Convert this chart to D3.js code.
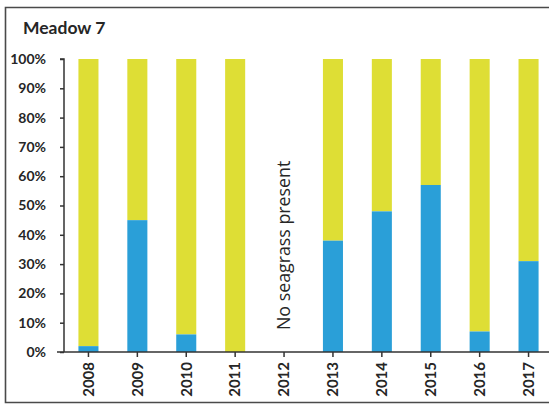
<!DOCTYPE html>
<html><head><meta charset="utf-8">
<script src="https://cdn.jsdelivr.net/npm/d3@7"></script>
<style>body{margin:0;background:#fff;} svg{display:block;}</style>
</head><body>
<svg id="c" width="549" height="405"></svg>
<script>
const title = "Meadow 7";
const years = ["2008","2009","2010","2011","2012","2013","2014","2015","2016","2017"];
const bluePct = [2, 45, 6, 0, null, 38, 48, 57, 7, 31];
const yTicks = [0,10,20,30,40,50,60,70,80,90,100];
const noDataLabel = "No seagrass present";

const svg = d3.select("#c");
const font = "Lato, 'Open Sans', sans-serif";
const txt = "#262626";
const yellow = "#dede35", blue = "#2a9fd8";

// frame
svg.append("path").attr("d","M560,7.5 H5.5 V402.5 H560").attr("fill","none").attr("stroke","#4a4a4a").attr("stroke-width",1.6);

svg.append("text").attr("x",23).attr("y",34).attr("font-family",font).attr("font-weight","bold")
  .attr("font-size",17.5).attr("fill",txt).text(title);

const x = d3.scaleBand().domain(years).range([64, 553]).paddingInner(0.59).paddingOuter(0.295);
const y = d3.scaleLinear().domain([0,100]).range([352, 59]);

const data = years.map((yr,i)=>({yr, v: bluePct[i]}));
const g = svg.append("g");
data.filter(d=>d.v!==null).forEach(d=>{
  g.append("rect").attr("x",x(d.yr)).attr("width",x.bandwidth()).attr("y",y(100)).attr("height",y(d.v)-y(100)).attr("fill",yellow);
  g.append("rect").attr("x",x(d.yr)).attr("width",x.bandwidth()).attr("y",y(d.v)).attr("height",y(0)-y(d.v)).attr("fill",blue);
});

// y axis
const ya = svg.append("g").attr("transform","translate(64,0)")
  .call(d3.axisLeft(y).tickValues(yTicks).tickSize(4).tickPadding(14).tickFormat(d=>d+"%"));
ya.select(".domain").attr("stroke","#333").attr("stroke-width",1.5).attr("d","M-4,59H0V352");
ya.selectAll(".tick line").attr("stroke","#333").attr("stroke-width",1.5);
ya.selectAll("text").attr("font-family",font).attr("font-weight","bold").attr("font-size",14).attr("fill",txt);

// x axis
const xa = svg.append("g").attr("transform","translate(0,352)")
  .call(d3.axisBottom(x).tickSize(5).tickPadding(0));
xa.select(".domain").attr("stroke","#333").attr("stroke-width",1.5).attr("d","M57,0H553");
xa.selectAll(".tick line").attr("stroke","#333").attr("stroke-width",1.5);
xa.selectAll("text").attr("font-family",font).attr("font-weight","bold").attr("font-size",15).attr("fill",txt)
  .attr("transform","rotate(-90)").attr("text-anchor","end").attr("dy","0.35em").attr("x",-10).attr("y",0);

// no data label
const nd = data.find(d=>d.v===null);
svg.append("text").attr("transform",`translate(${x(nd.yr)+x.bandwidth()/2},${y(7.5)}) rotate(-90)`)
  .attr("dy","0.35em").attr("font-family","'Open Sans', sans-serif").attr("font-size",17.8).attr("fill",txt).text(noDataLabel);
</script>
</body></html>
